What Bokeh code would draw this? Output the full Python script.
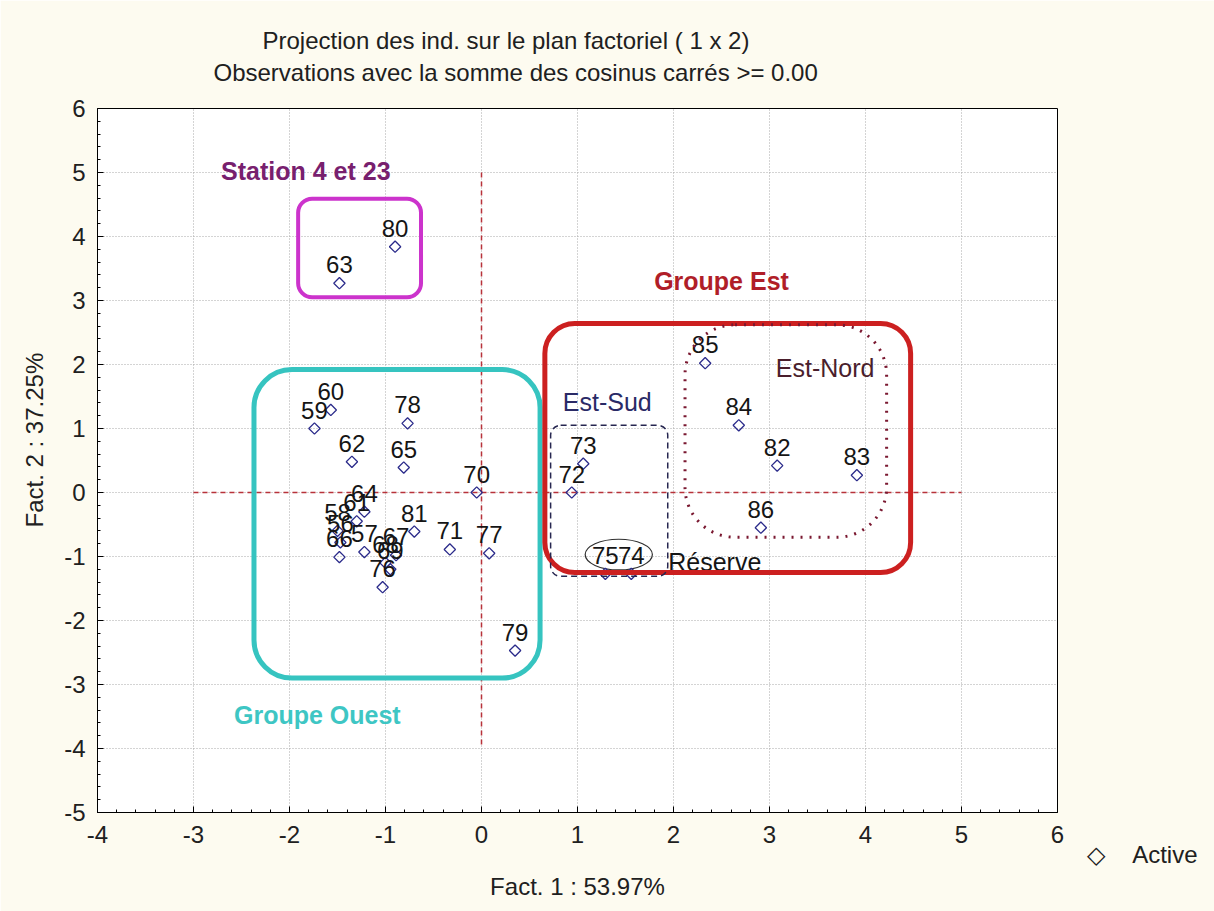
import numpy as np
from bokeh.plotting import figure
from bokeh.models import (ColumnDataSource, Range1d, FixedTicker, Label, BoxAnnotation, Title)
from bokeh.core.properties import value
from bokeh.embed import file_html
from bokeh.resources import INLINE

# ---------------- data ----------------
ids = ["56", "57", "58", "59", "60", "61", "62", "63", "64", "65", "66", "67", "68", "69",
       "70", "71", "72", "73", "74", "75", "76", "77", "78", "79", "80", "81", "82", "83",
       "84", "85", "86"]
fact1 = [-1.47, -1.22, -1.50, -1.74, -1.57, -1.30, -1.35, -1.48, -1.22, -0.81, -1.48, -0.89,
         -1.00, -0.95, -0.05, -0.33, 0.94, 1.06, 1.56, 1.29, -1.03, 0.08, -0.77, 0.35, -0.90,
         -0.70, 3.08, 3.91, 2.68, 2.33, 2.91]
fact2 = [-0.78, -0.93, -0.60, 1.00, 1.29, -0.45, 0.48, 3.27, -0.30, 0.39, -1.01, -0.98,
         -1.10, -1.20, 0.00, -0.89, 0.00, 0.45, -1.27, -1.27, -1.48, -0.95, 1.08, -2.47, 3.84,
         -0.61, 0.42, 0.27, 1.05, 2.02, -0.55]

x_ticks = [-4, -3, -2, -1, 0, 1, 2, 3, 4, 5, 6]
x_tick_labels = ["-4", "-3", "-2", "-1", "0", "1", "2", "3", "4", "5", "6"]
y_ticks = [-5, -4, -3, -2, -1, 0, 1, 2, 3, 4, 5, 6]
y_tick_labels = ["-5", "-4", "-3", "-2", "-1", "0", "1", "2", "3", "4", "5", "6"]

title_lines = ["Projection des ind. sur le plan factoriel ( 1 x  2)",
               "Observations avec la somme des cosinus carrés >=  0.00"]
x_label = "Fact. 1 : 53.97%"
y_label = "Fact. 2 : 37.25%"
legend_label = "\u25c7\u00a0\u00a0\u00a0\u00a0Active"

# reference (dashed) axes through origin: x0, y0, x1, y1
ref_x0 = [0.0, -3.0]
ref_y0 = [5.0, 0.0]
ref_x1 = [0.0, 5.0]
ref_y1 = [-4.0, 0.0]

# group boxes (left, right, bottom, top)
box_ouest = [-2.37, 0.61, -2.90, 1.92]
box_station = [-1.91, -0.63, 3.05, 4.59]
box_est = [0.66, 4.47, -1.25, 2.64]
box_est_sud = [0.72, 1.94, -1.31, 1.05]
box_est_nord = [2.12, 4.22, -0.70, 2.62]
reserve_ellipse = [1.43, -0.97, 0.70, 0.48]  # x, y, width, height

group_texts = ["Station 4 et 23", "Groupe Est", "Groupe Ouest", "Est-Sud", "Est-Nord", "Réserve"]
group_x = [-1.83, 2.50, -1.71, 1.31, 3.58, 2.43]
group_y = [5.02, 3.31, -3.48, 1.41, 1.94, -1.08]

FONT = "Liberation Sans"
TXT = "#202020"

p = figure(width=1214, height=911, output_backend="svg", toolbar_location=None,
           x_range=Range1d(-4, 6), y_range=Range1d(-5, 6),
           min_border_left=97, min_border_right=157, min_border_top=108, min_border_bottom=99)
p.border_fill_color = "#fdfbf0"
p.background_fill_color = "white"
p.outline_line_color = "black"
p.outline_line_width = 1

for ax, ticks, labels in ((p.xaxis[0], x_ticks, x_tick_labels), (p.yaxis[0], y_ticks, y_tick_labels)):
    ax.ticker = FixedTicker(ticks=ticks, minor_ticks=list(np.arange(ticks[0], ticks[-1] + 0.001, 0.2)))
    ax.major_label_overrides = {t: l for t, l in zip(ticks, labels)}
    ax.major_label_text_font = FONT
    ax.major_label_text_font_size = "24px"
    ax.major_label_text_color = TXT
    ax.axis_line_color = "black"
    ax.major_tick_in = 6
    ax.major_tick_out = 0
    ax.minor_tick_in = 3
    ax.minor_tick_out = 0
    ax.major_tick_line_color = "black"
    ax.minor_tick_line_color = "black"
p.xaxis.major_label_standoff = 13
p.yaxis.major_label_standoff = 12

p.grid.grid_line_color = "#a9a9a9"
p.grid.grid_line_dash = "1 2"
p.grid.grid_line_width = 1

def title(text, **kw):
    return Title(text=text, text_font=FONT, text_font_size="24px", text_font_style="normal",
                 text_color=TXT, **kw)

# titles (spacer, line 2, line 1 stacked outward from the frame)
p.add_layout(Title(text=" ", text_font_size="12px", standoff=7), "above")
p.add_layout(title(title_lines[1], align="left", offset=116, standoff=0), "above")
p.add_layout(title(title_lines[0], align="left", offset=165, standoff=6), "above")

# y-axis title, placed beside the tick labels
p.add_layout(title(y_label, align="left", offset=285, standoff=28), "left")

# legend entry and x-axis title below the axis
p.add_layout(title(legend_label, align="right", offset=-140, standoff=-10,
                   vertical_align="top"), "below")
p.add_layout(title(x_label, align="center", standoff=16, vertical_align="top"), "below")

# dashed reference lines
p.segment(x0=ref_x0, y0=ref_y0, x1=ref_x1, y1=ref_y1, line_color="#b8323a",
          line_dash="5 4", line_width=1.5)

# group boxes
def add_box(b, color, width, dash="solid", radius=30):
    p.add_layout(BoxAnnotation(left=b[0], right=b[1], bottom=b[2], top=b[3],
                               fill_alpha=0, line_color=color, line_alpha=1, line_width=width,
                               line_dash=dash, border_radius=radius, level="overlay"))

add_box(box_ouest, "#36c4c0", 5, radius=38)
add_box(box_station, "#cc33cc", 4, radius=14)
add_box(box_est, "#cc2020", 5, radius=30)
add_box(box_est_sud, "#262650", 1.5, dash="6 4", radius=10)
add_box(box_est_nord, "#7a1830", 3, dash="2 7", radius=50)

p.ellipse(x=[reserve_ellipse[0]], y=[reserve_ellipse[1]], width=[reserve_ellipse[2]],
          height=[reserve_ellipse[3]], fill_alpha=0, line_color="#303030", line_width=1.2)

# points
src = ColumnDataSource(dict(x=fact1, y=fact2, label=ids))
r = p.scatter("x", "y", source=src, marker="square", angle=np.pi / 4, size=8,
              fill_color="white", fill_alpha=0, line_color="#2a2a8a", line_width=1.3)
p.text("x", "y", text="label", source=src, text_font=value(FONT), text_font_size="24px",
       text_align="center", text_baseline="bottom", y_offset=-10, text_color="#151515")

# group labels
styles = [("#78206e", "bold"), ("#b01e28", "bold"), ("#3ec6c4", "bold"),
          ("#2a2a66", "normal"), ("#4a1e2c", "normal"), ("#151515", "normal")]
for t, gx, gy, (c, w) in zip(group_texts, group_x, group_y, styles):
    p.add_layout(Label(x=gx, y=gy, text=t, text_font=FONT, text_font_size="25px",
                       text_font_style=w, text_color=c, text_align="center",
                       text_baseline="middle"))

open("out.html", "w").write(file_html(p, INLINE))
